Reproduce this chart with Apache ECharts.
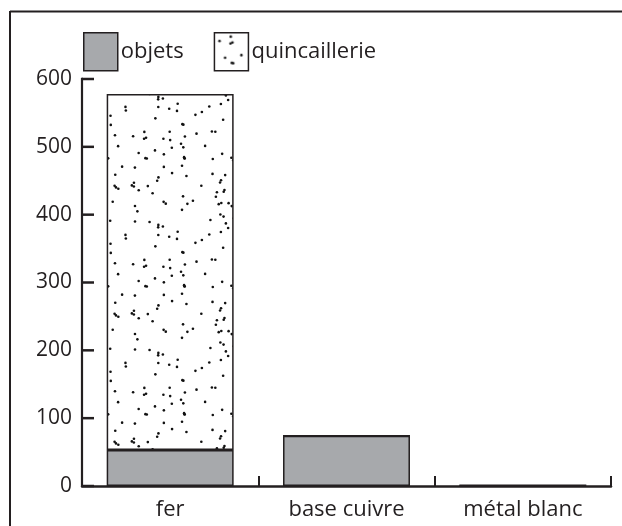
<!DOCTYPE html>
<html><head><meta charset="utf-8">
<script src="https://cdn.jsdelivr.net/npm/echarts@6/dist/echarts.min.js"></script>
<style>html,body{margin:0;padding:0;background:#fff}#c{width:622px;height:526px}</style>
</head><body><div id="c"></div>
<script>
const categories = ['fer', 'base cuivre', 'métal blanc'];
const objets = [53, 74, 1];
const quincaillerie = [525, 0, 0];
const yTicks = [0, 100, 200, 300, 400, 500, 600];

// stipple pattern (styling only)
function makeDots() {
  const n = 128;
  const cv = document.createElement('canvas');
  cv.width = n; cv.height = n;
  const g = cv.getContext('2d');
  g.fillStyle = '#fff'; g.fillRect(0, 0, n, n);
  g.fillStyle = '#111';
  let s = 987654;
  const rnd = () => { s = (s * 1103515245 + 12345) % 2147483648; return s / 2147483648; };
  for (let i = 0; i < 100; i++) {
    const x = 1.5 + rnd() * (n - 3), y = 1.5 + rnd() * (n - 3);
    g.beginPath(); g.arc(x, y, 1.3, 0, Math.PI * 2); g.fill();
  }
  return cv;
}
const dots = { image: makeDots(), repeat: 'repeat' };
const gray = '#a7a9ac';
const ink = '#231f20';
const font = 'Open Sans';
const tickLen = 12;

const chart = echarts.init(document.getElementById('c'), null, { renderer: 'canvas' });
chart.setOption({
  animation: false,
  textStyle: { fontFamily: font },
  legend: {
    left: 78, top: 27,
    itemWidth: 34, itemHeight: 38, itemGap: 30,
    icon: 'rect',
    itemStyle: { borderColor: ink, borderWidth: 1.5 },
    textStyle: { fontFamily: font, fontSize: 22, color: ink, padding: [0, 0, 0, -2] },
    data: ['objets', 'quincaillerie']
  },
  grid: { left: 82, right: 11, top: 79, bottom: 40 },
  xAxis: {
    type: 'category', data: categories,
    axisLine: { show: true, lineStyle: { color: ink, width: 2.5 } },
    axisTick: { show: true, inside: true, length: 10, lineStyle: { color: ink, width: 2 } },
    axisLabel: { fontFamily: font, fontSize: 22, color: ink, margin: 13 }
  },
  yAxis: {
    type: 'value', min: 0, max: 600, interval: 100,
    axisLine: { show: false },
    axisTick: { show: false },
    splitLine: { show: false },
    axisLabel: { fontFamily: font, fontSize: 21, color: ink, margin: 10 }
  },
  series: [
    { name: 'objets', type: 'bar', stack: 't', data: objets, barWidth: '72%',
      itemStyle: { color: gray, borderColor: ink, borderWidth: 1.5 } },
    { name: 'quincaillerie', type: 'bar', stack: 't', data: quincaillerie, barWidth: '72%',
      itemStyle: { color: dots, borderColor: ink, borderWidth: 1.5 } }
  ]
});

// y-axis line and inward ticks, placed through the chart's own scales
const c0 = chart.convertToPixel({ xAxisIndex: 0 }, 0);
const c1 = chart.convertToPixel({ xAxisIndex: 0 }, 1);
const axisX = c0 - (c1 - c0) / 2;
const yMin = chart.convertToPixel({ yAxisIndex: 0 }, yTicks[0]);
const yMax = chart.convertToPixel({ yAxisIndex: 0 }, yTicks[yTicks.length - 1]);
const yAxisParts = [
  { type: 'line', z: 10, shape: { x1: axisX, y1: yMax - 1.2, x2: axisX, y2: yMin }, style: { stroke: ink, lineWidth: 2.2 } }
].concat(yTicks.map(v => {
  const y = chart.convertToPixel({ yAxisIndex: 0 }, v);
  return { type: 'line', z: 10, shape: { x1: axisX, y1: y, x2: axisX + tickLen, y2: y }, style: { stroke: ink, lineWidth: 2.5 } };
}));
const frame = [
  { type: 'line', shape: { x1: 10, y1: 11.5, x2: 622, y2: 11.5 }, style: { stroke: ink, lineWidth: 2 } },
  { type: 'line', shape: { x1: 10, y1: 11, x2: 10, y2: 526 }, style: { stroke: ink, lineWidth: 2 } }
];
chart.setOption({ graphic: frame.concat(yAxisParts) });
</script></body></html>
